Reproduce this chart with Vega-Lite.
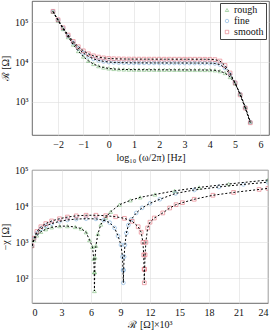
{
  "$schema": "https://vega.github.io/schema/vega-lite/v6.json",
  "padding": {"left": 0, "top": 0, "right": 4, "bottom": 0},
  "config": {
    "font": "Liberation Serif",
    "view": {"stroke": "#444", "strokeWidth": 0.8},
    "axis": {
      "grid": true, "gridColor": "#dddddd", "gridWidth": 0.6,
      "domain": false, "ticks": false,
      "labelFont": "Liberation Serif", "labelFontSize": 10, "labelColor": "#111", "labelPadding": 4,
      "titleFont": "Liberation Serif", "titleFontSize": 10, "titleFontWeight": "normal", "titleColor": "#111"
    },
    "legend": {
      "labelFont": "Liberation Serif", "labelFontSize": 10, "labelColor": "#111", "labelOffset": 2,
      "strokeColor": "#444", "fillColor": "white", "padding": 2, "rowPadding": 1,
      "symbolSize": 12, "symbolStrokeWidth": 0.7, "symbolFillColor": "transparent"
    }
  },
  "datasets": {
    "spectrum": [
      {"s": "rough", "logf": -2.2, "R": 181400}, {"s": "rough", "logf": -2.0, "R": 109400}, {"s": "rough", "logf": -1.8, "R": 67100}, {"s": "rough", "logf": -1.6, "R": 42100},
      {"s": "rough", "logf": -1.4, "R": 27400}, {"s": "rough", "logf": -1.2, "R": 18800}, {"s": "rough", "logf": -1.0, "R": 13700}, {"s": "rough", "logf": -0.8, "R": 10700},
      {"s": "rough", "logf": -0.6, "R": 8930}, {"s": "rough", "logf": -0.4, "R": 7890}, {"s": "rough", "logf": -0.2, "R": 7280}, {"s": "rough", "logf": 0.0, "R": 6920},
      {"s": "rough", "logf": 0.2, "R": 6700}, {"s": "rough", "logf": 0.4, "R": 6580}, {"s": "rough", "logf": 0.6, "R": 6510}, {"s": "rough", "logf": 0.8, "R": 6460},
      {"s": "rough", "logf": 1.0, "R": 6440}, {"s": "rough", "logf": 1.2, "R": 6420}, {"s": "rough", "logf": 1.4, "R": 6410}, {"s": "rough", "logf": 1.6, "R": 6400},
      {"s": "rough", "logf": 1.8, "R": 6390}, {"s": "rough", "logf": 2.0, "R": 6380}, {"s": "rough", "logf": 2.2, "R": 6380}, {"s": "rough", "logf": 2.4, "R": 6370},
      {"s": "rough", "logf": 2.6, "R": 6360}, {"s": "rough", "logf": 2.8, "R": 6360}, {"s": "rough", "logf": 3.0, "R": 6350}, {"s": "rough", "logf": 3.2, "R": 6340},
      {"s": "rough", "logf": 3.4, "R": 6330}, {"s": "rough", "logf": 3.6, "R": 6330}, {"s": "rough", "logf": 3.8, "R": 6320}, {"s": "rough", "logf": 4.0, "R": 6300},
      {"s": "rough", "logf": 4.2, "R": 6200}, {"s": "rough", "logf": 4.4, "R": 5900}, {"s": "rough", "logf": 4.6, "R": 5300}, {"s": "rough", "logf": 4.8, "R": 4200},
      {"s": "rough", "logf": 5.0, "R": 2900}, {"s": "rough", "logf": 5.2, "R": 1600}, {"s": "rough", "logf": 5.4, "R": 750}, {"s": "rough", "logf": 5.6, "R": 320},

      {"s": "fine", "logf": -2.2, "R": 184500}, {"s": "fine", "logf": -2.0, "R": 112500}, {"s": "fine", "logf": -1.8, "R": 70200}, {"s": "fine", "logf": -1.6, "R": 45200},
      {"s": "fine", "logf": -1.4, "R": 30500}, {"s": "fine", "logf": -1.2, "R": 21900}, {"s": "fine", "logf": -1.0, "R": 16800}, {"s": "fine", "logf": -0.8, "R": 13800},
      {"s": "fine", "logf": -0.6, "R": 12000}, {"s": "fine", "logf": -0.4, "R": 11000}, {"s": "fine", "logf": -0.2, "R": 10400}, {"s": "fine", "logf": 0.0, "R": 10000},
      {"s": "fine", "logf": 0.2, "R": 9800}, {"s": "fine", "logf": 0.4, "R": 9680}, {"s": "fine", "logf": 0.6, "R": 9610}, {"s": "fine", "logf": 0.8, "R": 9560},
      {"s": "fine", "logf": 1.0, "R": 9540}, {"s": "fine", "logf": 1.2, "R": 9520}, {"s": "fine", "logf": 1.4, "R": 9510}, {"s": "fine", "logf": 1.6, "R": 9500},
      {"s": "fine", "logf": 1.8, "R": 9490}, {"s": "fine", "logf": 2.0, "R": 9480}, {"s": "fine", "logf": 2.2, "R": 9480}, {"s": "fine", "logf": 2.4, "R": 9470},
      {"s": "fine", "logf": 2.6, "R": 9460}, {"s": "fine", "logf": 2.8, "R": 9460}, {"s": "fine", "logf": 3.0, "R": 9450}, {"s": "fine", "logf": 3.2, "R": 9440},
      {"s": "fine", "logf": 3.4, "R": 9430}, {"s": "fine", "logf": 3.6, "R": 9420}, {"s": "fine", "logf": 3.8, "R": 9410}, {"s": "fine", "logf": 4.0, "R": 9400},
      {"s": "fine", "logf": 4.2, "R": 9200}, {"s": "fine", "logf": 4.4, "R": 8600}, {"s": "fine", "logf": 4.6, "R": 7100}, {"s": "fine", "logf": 4.8, "R": 4900},
      {"s": "fine", "logf": 5.0, "R": 3000}, {"s": "fine", "logf": 5.2, "R": 1550}, {"s": "fine", "logf": 5.4, "R": 720}, {"s": "fine", "logf": 5.6, "R": 310},

      {"s": "smooth", "logf": -2.2, "R": 186800}, {"s": "smooth", "logf": -2.0, "R": 114800}, {"s": "smooth", "logf": -1.8, "R": 72500}, {"s": "smooth", "logf": -1.6, "R": 47500},
      {"s": "smooth", "logf": -1.4, "R": 32800}, {"s": "smooth", "logf": -1.2, "R": 24200}, {"s": "smooth", "logf": -1.0, "R": 19100}, {"s": "smooth", "logf": -0.8, "R": 16100},
      {"s": "smooth", "logf": -0.6, "R": 14300}, {"s": "smooth", "logf": -0.4, "R": 13300}, {"s": "smooth", "logf": -0.2, "R": 12700}, {"s": "smooth", "logf": 0.0, "R": 12300},
      {"s": "smooth", "logf": 0.2, "R": 12100}, {"s": "smooth", "logf": 0.4, "R": 11980}, {"s": "smooth", "logf": 0.6, "R": 11910}, {"s": "smooth", "logf": 0.8, "R": 11860},
      {"s": "smooth", "logf": 1.0, "R": 11840}, {"s": "smooth", "logf": 1.2, "R": 11820}, {"s": "smooth", "logf": 1.4, "R": 11810}, {"s": "smooth", "logf": 1.6, "R": 11800},
      {"s": "smooth", "logf": 1.8, "R": 11790}, {"s": "smooth", "logf": 2.0, "R": 11790}, {"s": "smooth", "logf": 2.2, "R": 11780}, {"s": "smooth", "logf": 2.4, "R": 11780},
      {"s": "smooth", "logf": 2.6, "R": 11770}, {"s": "smooth", "logf": 2.8, "R": 11770}, {"s": "smooth", "logf": 3.0, "R": 11760}, {"s": "smooth", "logf": 3.2, "R": 11760},
      {"s": "smooth", "logf": 3.4, "R": 11750}, {"s": "smooth", "logf": 3.6, "R": 11750}, {"s": "smooth", "logf": 3.8, "R": 11740}, {"s": "smooth", "logf": 4.0, "R": 11700},
      {"s": "smooth", "logf": 4.2, "R": 11500}, {"s": "smooth", "logf": 4.4, "R": 10600}, {"s": "smooth", "logf": 4.6, "R": 8200}, {"s": "smooth", "logf": 4.8, "R": 5300},
      {"s": "smooth", "logf": 5.0, "R": 3000}, {"s": "smooth", "logf": 5.2, "R": 1500}, {"s": "smooth", "logf": 5.4, "R": 700}, {"s": "smooth", "logf": 5.6, "R": 300}
    ],
    "nyquist": [
      {"s": "rough", "i": 1, "Rk": 0.0, "X": 800}, {"s": "rough", "i": 2, "Rk": 0.2, "X": 1150}, {"s": "rough", "i": 3, "Rk": 0.5, "X": 1550}, {"s": "rough", "i": 4, "Rk": 0.9, "X": 1950},
      {"s": "rough", "i": 5, "Rk": 1.4, "X": 2300}, {"s": "rough", "i": 6, "Rk": 2.0, "X": 2600}, {"s": "rough", "i": 7, "Rk": 2.8, "X": 2800}, {"s": "rough", "i": 8, "Rk": 3.6, "X": 2800},
      {"s": "rough", "i": 9, "Rk": 4.4, "X": 2650}, {"s": "rough", "i": 10, "Rk": 5.0, "X": 2400}, {"s": "rough", "i": 11, "Rk": 5.5, "X": 1900}, {"s": "rough", "i": 12, "Rk": 5.85, "X": 1150},
      {"s": "rough", "i": 13, "Rk": 6.15, "X": 750}, {"s": "rough", "i": 14, "Rk": 6.28, "X": 350}, {"s": "rough", "i": 15, "Rk": 6.33, "X": 150}, {"s": "rough", "i": 16, "Rk": 6.35, "X": 45},
      {"s": "rough", "i": 17, "Rk": 6.38, "X": 150}, {"s": "rough", "i": 18, "Rk": 6.42, "X": 380}, {"s": "rough", "i": 19, "Rk": 6.5, "X": 800}, {"s": "rough", "i": 20, "Rk": 6.7, "X": 1700},
      {"s": "rough", "i": 21, "Rk": 7.0, "X": 3100}, {"s": "rough", "i": 22, "Rk": 7.5, "X": 4800}, {"s": "rough", "i": 23, "Rk": 8.0, "X": 7000}, {"s": "rough", "i": 24, "Rk": 8.9, "X": 11000},
      {"s": "rough", "i": 25, "Rk": 10.0, "X": 14500}, {"s": "rough", "i": 26, "Rk": 11.0, "X": 17500}, {"s": "rough", "i": 27, "Rk": 12.5, "X": 21000}, {"s": "rough", "i": 28, "Rk": 14.5, "X": 26500},
      {"s": "rough", "i": 29, "Rk": 17.0, "X": 33000}, {"s": "rough", "i": 30, "Rk": 20.0, "X": 41000}, {"s": "rough", "i": 31, "Rk": 24.0, "X": 53000},

      {"s": "fine", "i": 1, "Rk": 0.0, "X": 800}, {"s": "fine", "i": 2, "Rk": 0.2, "X": 1250}, {"s": "fine", "i": 3, "Rk": 0.5, "X": 1800}, {"s": "fine", "i": 4, "Rk": 0.9, "X": 2350},
      {"s": "fine", "i": 5, "Rk": 1.4, "X": 2850}, {"s": "fine", "i": 6, "Rk": 2.0, "X": 3300}, {"s": "fine", "i": 7, "Rk": 2.8, "X": 3800}, {"s": "fine", "i": 8, "Rk": 3.6, "X": 4150},
      {"s": "fine", "i": 9, "Rk": 4.5, "X": 4400}, {"s": "fine", "i": 10, "Rk": 5.5, "X": 4500}, {"s": "fine", "i": 11, "Rk": 6.5, "X": 4450}, {"s": "fine", "i": 12, "Rk": 7.3, "X": 4100},
      {"s": "fine", "i": 13, "Rk": 7.9, "X": 3500}, {"s": "fine", "i": 14, "Rk": 8.4, "X": 2500}, {"s": "fine", "i": 15, "Rk": 8.75, "X": 1500}, {"s": "fine", "i": 16, "Rk": 9.05, "X": 850},
      {"s": "fine", "i": 17, "Rk": 9.2, "X": 400}, {"s": "fine", "i": 18, "Rk": 9.26, "X": 170}, {"s": "fine", "i": 19, "Rk": 9.29, "X": 76}, {"s": "fine", "i": 20, "Rk": 9.32, "X": 170},
      {"s": "fine", "i": 21, "Rk": 9.37, "X": 400}, {"s": "fine", "i": 22, "Rk": 9.45, "X": 850}, {"s": "fine", "i": 23, "Rk": 9.6, "X": 1800}, {"s": "fine", "i": 24, "Rk": 9.8, "X": 3000},
      {"s": "fine", "i": 25, "Rk": 10.1, "X": 4300}, {"s": "fine", "i": 26, "Rk": 10.6, "X": 6500}, {"s": "fine", "i": 27, "Rk": 11.2, "X": 9000}, {"s": "fine", "i": 28, "Rk": 12.0, "X": 12000},
      {"s": "fine", "i": 29, "Rk": 13.0, "X": 15500}, {"s": "fine", "i": 30, "Rk": 14.6, "X": 22500}, {"s": "fine", "i": 31, "Rk": 16.5, "X": 28000}, {"s": "fine", "i": 32, "Rk": 19.0, "X": 34000},
      {"s": "fine", "i": 33, "Rk": 21.5, "X": 40000}, {"s": "fine", "i": 34, "Rk": 24.0, "X": 46000},

      {"s": "smooth", "i": 1, "Rk": 0.0, "X": 800}, {"s": "smooth", "i": 2, "Rk": 0.2, "X": 1300}, {"s": "smooth", "i": 3, "Rk": 0.5, "X": 2000}, {"s": "smooth", "i": 4, "Rk": 0.9, "X": 2700},
      {"s": "smooth", "i": 5, "Rk": 1.4, "X": 3300}, {"s": "smooth", "i": 6, "Rk": 2.0, "X": 3900}, {"s": "smooth", "i": 7, "Rk": 2.8, "X": 4500}, {"s": "smooth", "i": 8, "Rk": 3.6, "X": 5000},
      {"s": "smooth", "i": 9, "Rk": 4.5, "X": 5400}, {"s": "smooth", "i": 10, "Rk": 5.5, "X": 5600}, {"s": "smooth", "i": 11, "Rk": 6.5, "X": 5600}, {"s": "smooth", "i": 12, "Rk": 7.5, "X": 5450},
      {"s": "smooth", "i": 13, "Rk": 8.5, "X": 5100}, {"s": "smooth", "i": 14, "Rk": 9.4, "X": 4600}, {"s": "smooth", "i": 15, "Rk": 10.2, "X": 3800}, {"s": "smooth", "i": 16, "Rk": 10.8, "X": 2700},
      {"s": "smooth", "i": 17, "Rk": 11.1, "X": 1900}, {"s": "smooth", "i": 18, "Rk": 11.28, "X": 1000}, {"s": "smooth", "i": 19, "Rk": 11.36, "X": 450}, {"s": "smooth", "i": 20, "Rk": 11.4, "X": 180},
      {"s": "smooth", "i": 21, "Rk": 11.42, "X": 76}, {"s": "smooth", "i": 22, "Rk": 11.45, "X": 180}, {"s": "smooth", "i": 23, "Rk": 11.5, "X": 450}, {"s": "smooth", "i": 24, "Rk": 11.58, "X": 1000},
      {"s": "smooth", "i": 25, "Rk": 11.76, "X": 2500}, {"s": "smooth", "i": 26, "Rk": 12.0, "X": 3600}, {"s": "smooth", "i": 27, "Rk": 12.44, "X": 4700}, {"s": "smooth", "i": 28, "Rk": 13.3, "X": 6500},
      {"s": "smooth", "i": 29, "Rk": 14.0, "X": 8900}, {"s": "smooth", "i": 30, "Rk": 14.65, "X": 11000}, {"s": "smooth", "i": 31, "Rk": 15.3, "X": 12500}, {"s": "smooth", "i": 32, "Rk": 16.5, "X": 15500},
      {"s": "smooth", "i": 33, "Rk": 18.4, "X": 20000}, {"s": "smooth", "i": 34, "Rk": 20.5, "X": 24000}, {"s": "smooth", "i": 35, "Rk": 23.1, "X": 29000}, {"s": "smooth", "i": 36, "Rk": 24.0, "X": 31000}
    ]
  },
  "bounds": "flush",
  "spacing": 35,
  "resolve": {"scale": {"color": "shared", "shape": "shared"}},
  "vconcat": [
    {
      "width": 237,
      "height": 134,
      "data": {"name": "spectrum"},
      "encoding": {
        "x": {
          "field": "logf", "type": "quantitative",
          "scale": {"domain": [-3.03, 6.34], "nice": false, "zero": false},
          "axis": {"values": [-2, -1, 0, 1, 2, 3, 4, 5, 6], "title": "log₁₀ (ω/2π) [Hz]", "titlePadding": 3}
        },
        "y": {
          "field": "R", "type": "quantitative",
          "scale": {"type": "log", "domain": [148, 339000], "nice": false},
          "axis": {
            "values": [1000, 10000, 100000],
            "labelExpr": "'10' + (datum.value > 50000 ? '⁵' : datum.value > 5000 ? '⁴' : '³')",
            "title": "ℛ [Ω]", "titlePadding": 4
          }
        }
      },
      "layer": [
        {
          "mark": {"type": "point", "filled": false, "size": 14, "strokeWidth": 0.7, "clip": true},
          "encoding": {
            "color": {
              "field": "s", "type": "nominal",
              "scale": {"domain": ["rough", "fine", "smooth"], "range": ["#5aab5a", "#5b9bd5", "#e0505f"]},
              "legend": {"title": null, "orient": "none", "legendX": 188, "legendY": 2}
            },
            "shape": {
              "field": "s", "type": "nominal",
              "scale": {"domain": ["rough", "fine", "smooth"], "range": ["triangle-up", "circle", "square"]},
              "legend": {"title": null, "orient": "none", "legendX": 188, "legendY": 2}
            }
          }
        },
        {
          "mark": {"type": "line", "color": "black", "strokeDash": [2, 2], "strokeWidth": 1, "clip": true},
          "encoding": {"detail": {"field": "s", "type": "nominal"}}
        }
      ]
    },
    {
      "width": 236,
      "height": 133,
      "data": {"name": "nyquist"},
      "encoding": {
        "x": {
          "field": "Rk", "type": "quantitative",
          "scale": {"domain": [0, 24], "nice": false},
          "axis": {"values": [0, 3, 6, 9, 12, 15, 18, 21, 24], "title": "ℛ [Ω]×10³", "titlePadding": 2}
        },
        "y": {
          "field": "X", "type": "quantitative",
          "scale": {"type": "log", "domain": [21, 100000], "nice": false},
          "axis": {
            "values": [100, 1000, 10000, 100000],
            "labelExpr": "'10' + (datum.value > 50000 ? '⁵' : datum.value > 5000 ? '⁴' : datum.value > 500 ? '³' : '²')",
            "title": "−χ [Ω]", "titlePadding": 4
          }
        }
      },
      "layer": [
        {
          "mark": {"type": "point", "filled": false, "size": 14, "strokeWidth": 0.7, "clip": true},
          "encoding": {
            "color": {"field": "s", "type": "nominal", "legend": null},
            "shape": {"field": "s", "type": "nominal", "legend": null}
          }
        },
        {
          "mark": {"type": "line", "color": "black", "strokeDash": [2, 2], "strokeWidth": 1, "clip": true},
          "encoding": {
            "detail": {"field": "s", "type": "nominal"},
            "order": {"field": "i", "type": "quantitative"}
          }
        }
      ]
    }
  ]
}
